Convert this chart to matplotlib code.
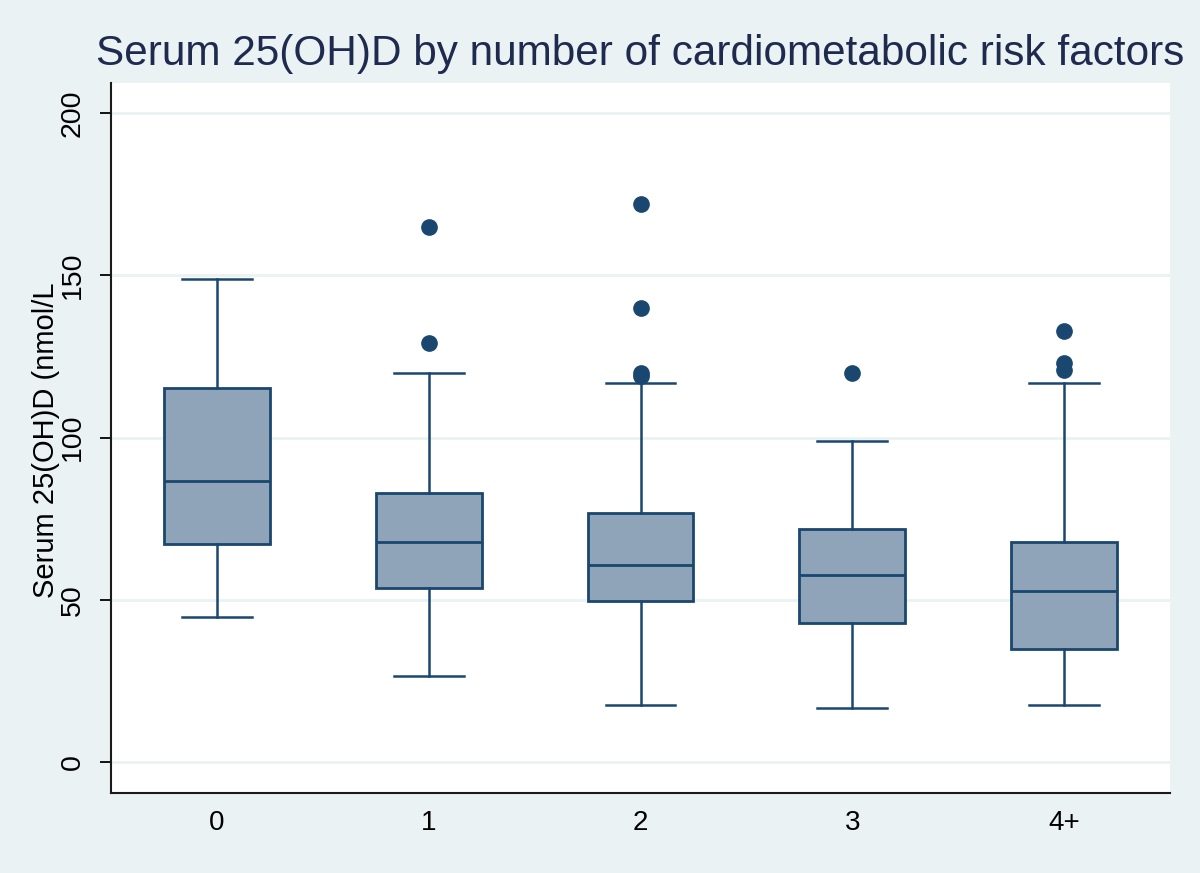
import matplotlib
matplotlib.use("Agg")
import matplotlib.pyplot as plt

plt.rcParams['font.family'] = ['Liberation Sans', 'DejaVu Sans']

# --- data ---
groups = ["0", "1", "2", "3", "4+"]
q1 = [67.3, 53.8, 49.7, 42.9, 34.9]
med = [86.5, 67.8, 60.8, 57.7, 52.8]
q3 = [115.4, 82.9, 76.8, 71.9, 67.9]
whis_lo = [44.8, 26.6, 17.7, 16.7, 17.7]
whis_hi = [148.8, 119.9, 117.0, 99.0, 117.0]
outliers = [
    [],
    [165.0, 129.1],
    [172.0, 139.9, 119.9, 119.0],
    [120.0],
    [132.9, 123.1, 120.9],
]
yticks = [0, 50, 100, 150, 200]

NAVY = "#1a476f"
FILL = "#8fa4b8"
BG = "#eaf2f3"

fig = plt.figure(figsize=(12, 8.73), dpi=100, facecolor=BG)
ax = fig.add_axes([111 / 1200, 1 - 793 / 873, (1170 - 111) / 1200, (793 - 83) / 873])
ax.set_facecolor("white")

stats = []
for i, g in enumerate(groups):
    stats.append(dict(label=g, q1=q1[i], med=med[i], q3=q3[i],
                      whislo=whis_lo[i], whishi=whis_hi[i], fliers=outliers[i]))

ax.bxp(stats, positions=range(len(groups)), widths=0.5, patch_artist=True,
       boxprops=dict(facecolor=FILL, edgecolor=NAVY, linewidth=2.0),
       medianprops=dict(color=NAVY, linewidth=2.0),
       whiskerprops=dict(color=NAVY, linewidth=1.8),
       capprops=dict(color=NAVY, linewidth=1.8),
       capwidths=0.33,
       flierprops=dict(marker="o", markerfacecolor=NAVY, markeredgecolor=NAVY,
                       markersize=11, linestyle="none"),
       zorder=3)

# grid
for y in yticks:
    ax.axhline(y, color=BG, linewidth=2, zorder=1)

ax.set_xlim(-0.5, 4.5)
ax.set_ylim(-9.5, 209.3)
ax.set_yticks(yticks)
ax.set_yticklabels([str(v) for v in yticks], rotation=90, va="center", fontsize=20.5)
ax.set_xticks(range(len(groups)))
ax.set_xticklabels(groups, fontsize=20)

ax.tick_params(axis="y", length=8, width=1.3, pad=10)
ax.tick_params(axis="x", length=0, pad=12)

for s in ["top", "right"]:
    ax.spines[s].set_visible(False)
for s in ["left", "bottom"]:
    ax.spines[s].set_linewidth(1.5)
    ax.spines[s].set_color("#1a1a1a")

fig.text(46 / 1200, 1 - 440 / 873, "Serum 25(OH)D (nmol/L", rotation=90,
         ha="center", va="center", fontsize=21)
fig.text(640 / 1200, 1 - 65 / 873, "Serum 25(OH)D by number of cardiometabolic risk factors",
         ha="center", va="baseline", fontsize=30.4, color="#1e2b4f")

fig.savefig("out.png", dpi=100, facecolor=BG)
